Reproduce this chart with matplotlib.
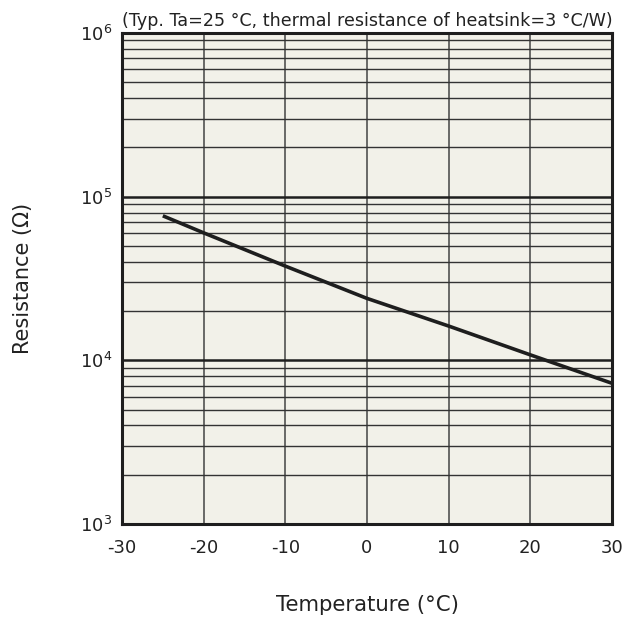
import numpy as np
import matplotlib.pyplot as plt
from matplotlib.ticker import LogLocator, FixedLocator

plt.rcParams['axes.unicode_minus'] = False

# ── Data ──
temp_c = [-25, -20, -10, 0, 10, 20, 30]
resistance_ohm = [76400, 60100, 37650, 23900, 16200, 10800, 7240]

x_ticks = [-30, -20, -10, 0, 10, 20, 30]
y_decades = [1e3, 1e4, 1e5, 1e6]

BG = '#f2f1e9'
INK = '#1e1e1e'
TXT = '#222222'

fig = plt.figure(figsize=(6.43, 6.23), dpi=100)
ax = fig.add_axes([122 / 643, 1 - 524 / 623, 490 / 643, 491 / 623])
ax.set_facecolor(BG)

ax.plot(temp_c, resistance_ohm, color=INK, linewidth=2.6, solid_capstyle='butt', zorder=3)

ax.set_yscale('log')
ax.set_xlim(-30, 30)
ax.set_ylim(1e3, 1e6)
ax.xaxis.set_major_locator(FixedLocator(x_ticks))
ax.yaxis.set_major_locator(FixedLocator(y_decades))
ax.yaxis.set_minor_locator(LogLocator(base=10, subs=np.arange(2, 10)))
ax.yaxis.set_minor_formatter(plt.NullFormatter())

# grid: thick decade lines, thin minor lines, vertical every 10 °C
ax.grid(which='major', axis='y', color=INK, linewidth=1.8)
ax.grid(which='minor', axis='y', color='#333333', linewidth=1.0)
ax.grid(which='major', axis='x', color='#444444', linewidth=1.1)
ax.set_axisbelow(True)

for s in ax.spines.values():
    s.set_color(INK)
    s.set_linewidth(2.2)
ax.tick_params(which='both', length=0, labelsize=13, colors=TXT)
ax.tick_params(axis='x', pad=11)
ax.tick_params(axis='y', pad=7)

ax.set_xlabel('Temperature (°C)', fontsize=15.3, color=TXT)
ax.set_ylabel('Resistance (Ω)', fontsize=15, color=TXT)
ax.xaxis.set_label_coords(0.5, -0.144)
ax.yaxis.set_label_coords(-0.182, 0.5)

ax.text(0.0, 1.006, '(Typ. Ta=25 °C, thermal resistance of heatsink=3 °C/W)',
        transform=ax.transAxes, ha='left', va='bottom', fontsize=12.6, color=TXT)

plt.savefig('out.png', dpi=100, facecolor='white')
